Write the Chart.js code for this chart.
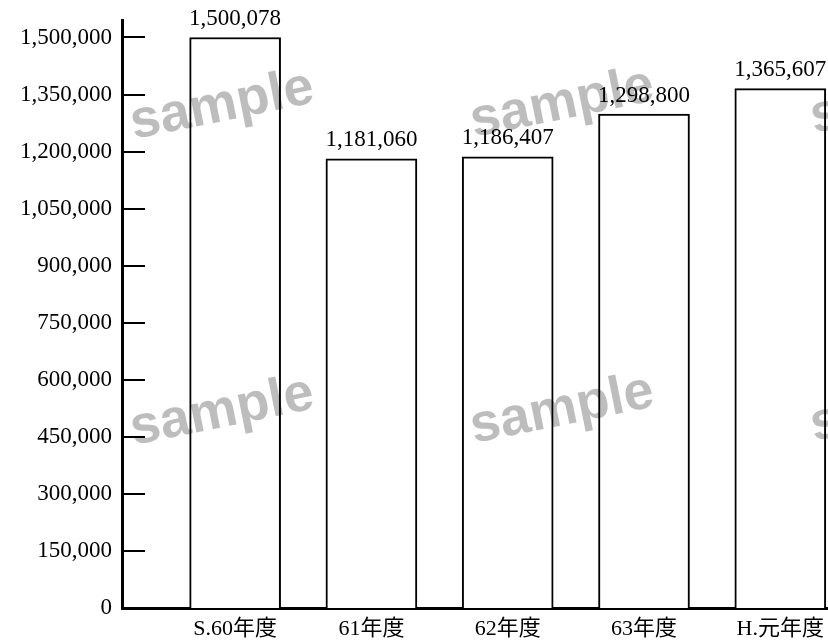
<!DOCTYPE html>
<html>
<head>
<meta charset="utf-8">
<script src="https://cdn.jsdelivr.net/npm/chart.js@4"></script>
<style>
  html, body { margin: 0; padding: 0; background: #fff; }
  #wrap { width: 828px; height: 641px; }
</style>
</head>
<body>
<div id="wrap"><canvas id="barChart" width="828" height="641"></canvas></div>
<script>
// data
const categories = ['S.60年度', '61年度', '62年度', '63年度', 'H.元年度'];
const amounts = [1500078, 1181060, 1186407, 1298800, 1365607];
const yTicks = [0, 150000, 300000, 450000, 600000, 750000, 900000, 1050000, 1200000, 1350000, 1500000];
const watermarkText = 'sample';

document.addEventListener('DOMContentLoaded', function () {
    const ctx = document.getElementById('barChart').getContext('2d');
    const serif = "'Liberation Serif', 'Noto Sans CJK JP', serif";

    Chart.defaults.font.family = serif;
    Chart.defaults.color = '#000';

    function fmt(v) {
        return v.toLocaleString('en-US');
    }

    // short tick marks pointing into the plot, plus values over bars
    const extras = {
        id: 'extras',
        afterDatasetsDraw(chart) {
            const c = chart.ctx;
            const area = chart.chartArea;
            const y = chart.scales.y;
            c.save();
            c.strokeStyle = '#000';
            c.lineWidth = 2;
            y.ticks.forEach(t => {
                if (t.value === 0) return;
                const py = Math.round(y.getPixelForValue(t.value));
                c.beginPath();
                c.moveTo(area.left, py);
                c.lineTo(area.left + 23, py);
                c.stroke();
            });
            c.fillStyle = '#000';
            c.font = '23px ' + serif;
            c.textAlign = 'center';
            c.textBaseline = 'bottom';
            chart.getDatasetMeta(0).data.forEach((bar, i) => {
                c.fillText(fmt(amounts[i]), bar.x, bar.y - 7);
            });
            c.restore();
        },
        afterDraw(chart) {
            const c = chart.ctx;
            c.save();
            c.fillStyle = 'rgba(0, 0, 0, 0.26)';
            c.font = "bold 54px 'Liberation Sans', Arial, sans-serif";
            c.textAlign = 'center';
            c.textBaseline = 'middle';
            [[222, 106], [562, 104], [902, 100], [222, 412], [562, 410], [902, 408]].forEach(p => {
                c.save();
                c.translate(p[0], p[1]);
                c.rotate(-0.2);
                c.fillText(watermarkText, 0, 0);
                c.restore();
            });
            c.restore();
        }
    };

    new Chart(ctx, {
        type: 'bar',
        data: {
            datasets: [{
                data: amounts.map((v, i) => ({ x: i, y: v })),
                backgroundColor: '#fff',
                borderColor: '#000',
                borderWidth: 2,
                barThickness: 91
            }]
        },
        options: {
            responsive: false,
            animation: false,
            layout: { padding: { top: 20, right: 0, left: 0, bottom: 0 } },
            plugins: {
                legend: { display: false },
                tooltip: { enabled: false }
            },
            scales: {
                x: {
                    type: 'linear',
                    min: -0.83,
                    max: 4.35,
                    offset: false,
                    z: 1,
                    grid: { display: false, drawTicks: false, offset: false },
                    border: { display: true, color: '#000', width: 3 },
                    afterBuildTicks: function (scale) {
                        scale.ticks = categories.map((_, i) => ({ value: i }));
                    },
                    afterFit: function (scale) {
                        scale.height = 33;
                        scale.paddingLeft = 0;
                        scale.paddingRight = 0;
                    },
                    ticks: {
                        font: { size: 22 },
                        padding: 8,
                        maxRotation: 0,
                        autoSkip: false,
                        callback: function (value) { return categories[value]; }
                    }
                },
                y: {
                    min: 0,
                    max: 1546000,
                    z: 1,
                    grid: { display: false, drawTicks: false },
                    border: { display: true, color: '#000', width: 3 },
                    afterBuildTicks: function (scale) {
                        scale.ticks = yTicks.map(v => ({ value: v }));
                    },
                    afterFit: function (scale) {
                        scale.width = 122;
                        scale.paddingTop = 0;
                        scale.paddingBottom = 0;
                    },
                    ticks: {
                        font: { size: 23 },
                        padding: 10,
                        callback: function (value) { return fmt(value); }
                    }
                }
            }
        },
        plugins: [extras]
    });
});
</script>
</body>
</html>
